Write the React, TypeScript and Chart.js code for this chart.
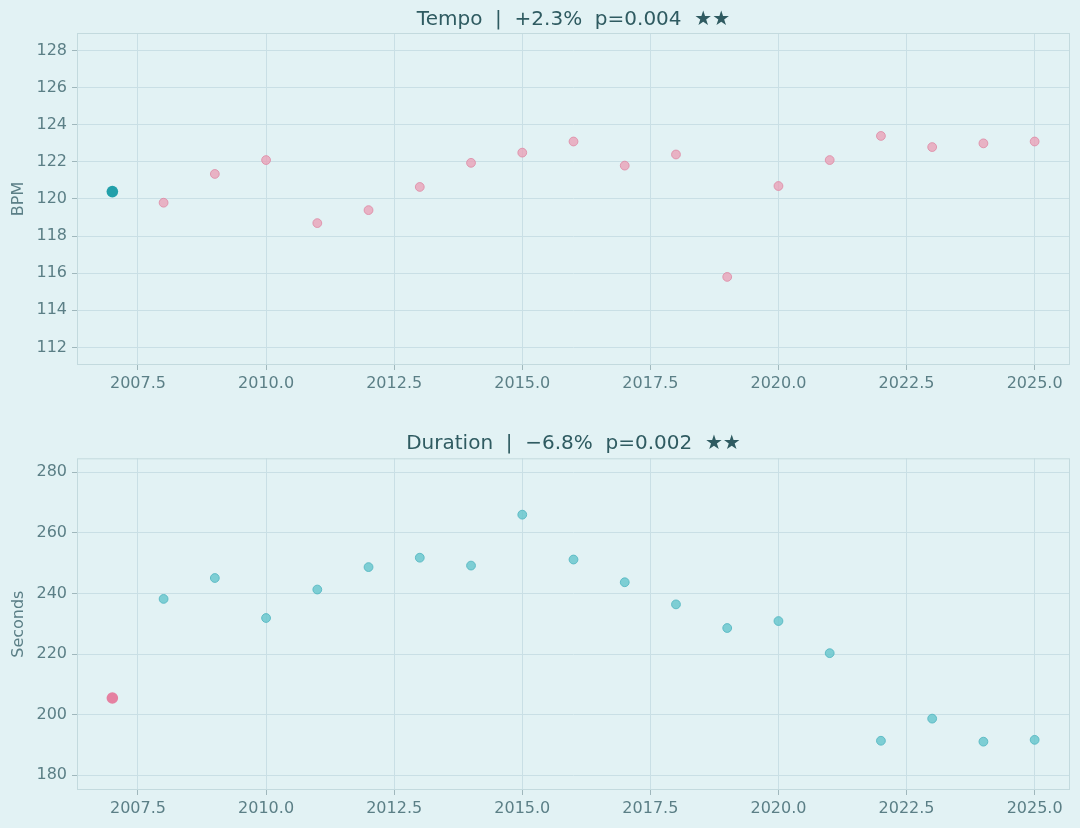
import { useEffect, useRef } from "react";
import { Chart, registerables } from "chart.js";

Chart.register(...registerables);

// Release years and yearly averages
const years = [2007, 2008, 2009, 2010, 2011, 2012, 2013, 2014, 2015, 2016, 2017, 2018, 2019, 2020, 2021, 2022, 2023, 2024, 2025];
const tempoBpm = [120.4, 119.8, 121.35, 122.1, 118.7, 119.4, 120.65, 121.95, 122.5, 123.1, 121.8, 122.4, 115.8, 120.7, 122.1, 123.4, 122.8, 123.0, 123.1];
const durationSec = [205.5, 238.2, 245.1, 231.9, 241.3, 248.7, 251.8, 249.2, 266.0, 251.2, 243.7, 236.4, 228.6, 230.9, 220.3, 191.4, 198.7, 191.1, 191.7];

// Axis ticks
const yearTicks = [2007.5, 2010, 2012.5, 2015, 2017.5, 2020, 2022.5, 2025];
const tempoTicks = [112, 114, 116, 118, 120, 122, 124, 126, 128];
const durationTicks = [180, 200, 220, 240, 260, 280];

const tempoTitle = "Tempo  |  +2.3%  p=0.004  ★★";
const durationTitle = "Duration  |  \u22126.8%  p=0.002  ★★";

const FONT = "'DejaVu Sans', 'Liberation Sans', sans-serif";
const BG = "#e2f2f4";
const GRID = "#c9dfe5";
const SPINE = "#c3dade";
const TICK_MARK = "#9fb7bc";
const TICK_TEXT = "#5b7f86";
const TITLE_TEXT = "#2f5b61";

// Draws all four spines around the plotting area
const framePlugin = {
  id: "frame",
  beforeDatasetsDraw(chart: any) {
    const { ctx, chartArea } = chart;
    ctx.save();
    ctx.strokeStyle = SPINE;
    ctx.lineWidth = 1;
    ctx.strokeRect(chartArea.left + 0.5, chartArea.top + 0.5, chartArea.right - chartArea.left - 1, chartArea.bottom - chartArea.top - 1);
    ctx.restore();
  },
};

// Panel title centred over the plotting area
const panelTitlePlugin = {
  id: "panelTitle",
  afterDraw(chart: any, _args: any, opts: any) {
    const { ctx, chartArea } = chart;
    ctx.save();
    ctx.fillStyle = TITLE_TEXT;
    ctx.font = `20px ${FONT}`;
    ctx.textAlign = "center";
    ctx.textBaseline = "middle";
    ctx.fillText(opts.text, (chartArea.left + chartArea.right) / 2, opts.y);
    ctx.restore();
  },
};

type PanelSpec = {
  title: string;
  yLabel: string;
  values: number[];
  yTicks: number[];
  yMin: number;
  yMax: number;
  firstColor: string;
  dotFill: string;
  dotEdge: string;
  padTop: number;
  titleY: number;
  xHeight: number;
};

function makeConfig(p: PanelSpec): any {
  const rest = years.slice(1).map((x, i) => ({ x, y: p.values[i + 1] }));
  return {
    type: "scatter",
    data: {
      datasets: [
        {
          data: rest,
          backgroundColor: p.dotFill,
          borderColor: p.dotEdge,
          borderWidth: 1,
          pointRadius: 4.4,
          pointHoverRadius: 4.4,
        },
        {
          data: [{ x: years[0], y: p.values[0] }],
          backgroundColor: p.firstColor,
          borderColor: p.firstColor,
          borderWidth: 0,
          pointRadius: 5.8,
          pointHoverRadius: 5.8,
        },
      ],
    },
    options: {
      responsive: false,
      animation: false,
      devicePixelRatio: 1,
      layout: { padding: { top: p.padTop, right: 10, left: 0, bottom: 0 } },
      plugins: {
        legend: { display: false },
        tooltip: { enabled: false },
        title: { display: false },
        panelTitle: { text: p.title, y: p.titleY },
      },
      scales: {
        x: {
          type: "linear",
          min: 2006.31,
          max: 2025.69,
          afterBuildTicks: (s: any) => {
            s.ticks = yearTicks.map((value) => ({ value }));
          },
          afterFit: (s: any) => {
            s.height = p.xHeight;
          },
          ticks: {
            callback: (v: any) => Number(v).toFixed(1),
            color: TICK_TEXT,
            font: { family: FONT, size: 16 },
            padding: 4,
            maxRotation: 0,
            autoSkip: false,
          },
          grid: { color: GRID, tickLength: 5, tickColor: TICK_MARK, lineWidth: 1 },
          border: { display: false },
        },
        y: {
          type: "linear",
          min: p.yMin,
          max: p.yMax,
          afterBuildTicks: (s: any) => {
            s.ticks = p.yTicks.map((value) => ({ value }));
          },
          afterFit: (s: any) => {
            s.width = 77;
          },
          ticks: {
            color: TICK_TEXT,
            font: { family: FONT, size: 16 },
            padding: 5,
            autoSkip: false,
          },
          grid: { color: GRID, tickLength: 5, tickColor: TICK_MARK, lineWidth: 1 },
          border: { display: false },
          title: {
            display: true,
            text: p.yLabel,
            color: TICK_TEXT,
            font: { family: FONT, size: 16 },
            padding: { top: 9, bottom: 0 },
          },
        },
      },
    },
    plugins: [framePlugin, panelTitlePlugin],
  };
}

function Panel({ spec, top }: { spec: PanelSpec; top: number }) {
  const ref = useRef<HTMLCanvasElement | null>(null);
  useEffect(() => {
    if (!ref.current) return;
    const chart = new Chart(ref.current, makeConfig(spec));
    return () => chart.destroy();
  }, [spec]);
  return (
    <canvas
      ref={ref}
      width={1080}
      height={414}
      style={{ position: "absolute", left: 0, top, width: 1080, height: 414 }}
    />
  );
}

const tempoPanel: PanelSpec = {
  title: tempoTitle,
  yLabel: "BPM",
  values: tempoBpm,
  yTicks: tempoTicks,
  yMin: 111.05,
  yMax: 128.95,
  firstColor: "#22a0aa",
  dotFill: "rgba(233, 156, 180, 0.75)",
  dotEdge: "rgba(222, 140, 166, 0.85)",
  padTop: 33,
  titleY: 19.5,
  xHeight: 49,
};

const durationPanel: PanelSpec = {
  title: durationTitle,
  yLabel: "Seconds",
  values: durationSec,
  yTicks: durationTicks,
  yMin: 175.15,
  yMax: 284.6,
  firstColor: "#e581a1",
  dotFill: "rgba(100, 196, 204, 0.8)",
  dotEdge: "rgba(86, 184, 194, 0.9)",
  padTop: 44.3,
  titleY: 30,
  xHeight: 38,
};

export default function App() {
  return (
    <div
      style={{
        position: "fixed",
        left: 0,
        top: 0,
        width: 1080,
        height: 828,
        background: BG,
        overflow: "hidden",
      }}
    >
      <Panel spec={tempoPanel} top={0} />
      <Panel spec={durationPanel} top={414} />
    </div>
  );
}
